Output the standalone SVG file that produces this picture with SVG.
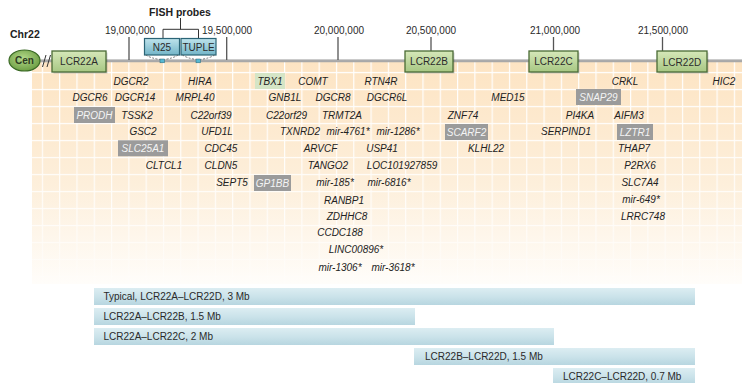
<svg xmlns="http://www.w3.org/2000/svg" width="742" height="383" viewBox="0 0 742 383">
  <defs>
    <linearGradient id="peach" x1="0" y1="0" x2="0" y2="1">
      <stop offset="0" stop-color="#fde4c3"/>
      <stop offset="0.55" stop-color="#fdefdb"/>
      <stop offset="1" stop-color="#fffdfa"/>
    </linearGradient>
    <pattern id="grid" patternUnits="userSpaceOnUse" x="7.2" y="71.9" width="17.3" height="17">
      <path d="M0.6 0V17M0 0.6H17.3" fill="none" stroke="#ffffff" stroke-width="1.2"/>
    </pattern>
    <linearGradient id="gridFade" x1="0" y1="0" x2="0" y2="1">
      <stop offset="0" stop-color="#fff" stop-opacity="1"/>
      <stop offset="0.7" stop-color="#fff" stop-opacity="0.8"/>
      <stop offset="1" stop-color="#fff" stop-opacity="0.2"/>
    </linearGradient>
    <mask id="fadeMask">
      <rect x="0" y="62" width="742" height="222" fill="url(#gridFade)"/>
    </mask>
    <linearGradient id="lcr" x1="0" y1="0" x2="0" y2="1">
      <stop offset="0" stop-color="#d6e8b9"/>
      <stop offset="1" stop-color="#a7c783"/>
    </linearGradient>
    <linearGradient id="probe" x1="0" y1="0" x2="0" y2="1">
      <stop offset="0" stop-color="#bfe3ec"/>
      <stop offset="1" stop-color="#73b5c8"/>
    </linearGradient>
    <radialGradient id="cen" cx="0.45" cy="0.4" r="0.6">
      <stop offset="0" stop-color="#b4d98a"/>
      <stop offset="1" stop-color="#6e9f45"/>
    </radialGradient>
    <linearGradient id="bar" x1="0" y1="0" x2="0" y2="1">
      <stop offset="0" stop-color="#dcedf2"/>
      <stop offset="0.5" stop-color="#cbe3ea"/>
      <stop offset="1" stop-color="#b7d6e0"/>
    </linearGradient>
    <style>
      text { font-family: "Liberation Sans", Arial, sans-serif; font-size: 10px; fill: #222; }
      .g { font-style: italic; text-anchor: middle; }
      .gw { font-style: italic; text-anchor: middle; fill: #f4f4f4; }
      .gray { fill: #9b9b9b; }
      .tbx { fill: #d5e5c6; }
      .tick { stroke: #555; stroke-width: 1.3; }
      .tl { text-anchor: middle; fill: #2a2a2a; }
      .lcrbox { fill: url(#lcr); stroke: #4a6b35; stroke-width: 1.3; }
      .shadow { fill: #000; fill-opacity: 0.18; }
      .lcrt { text-anchor: middle; fill: #2b2b2b; }
      .probebox { fill: url(#probe); stroke: #2b6476; stroke-width: 1.2; }
      .dash { fill: none; stroke: #555; stroke-width: 0.8; stroke-dasharray: 2 1.5; }
      .site { fill: #56b8d2; stroke: #2b6476; stroke-width: 0.5; }
      .bar { fill: url(#bar); }
      .bt { fill: #2a2a2a; }
    </style>
  </defs>

  <!-- gene map background -->
  <rect x="32" y="62" width="710" height="222" fill="url(#peach)"/>
  <rect x="32" y="62" width="710" height="222" fill="url(#grid)" mask="url(#fadeMask)"/>

  <!-- chromosome backbone -->
  <g id="chromosome">
    <text x="10" y="38" style="font-weight:bold;font-size:10.5px">Chr22</text>
    <line x1="38" y1="60.8" x2="742" y2="60.8" stroke="#a8a8a8" stroke-width="3"/>
    <line x1="38" y1="59.6" x2="742" y2="59.6" stroke="#cfcfcf" stroke-width="0.8"/>
    <path d="M42.5 67L46 55M47 67L50.5 55" stroke="#333" stroke-width="1" fill="none"/>
  </g>

  <g id="cen">
    <ellipse cx="24.5" cy="60.5" rx="15.5" ry="10.5" fill="url(#cen)" stroke="#3b6a26" stroke-width="1.2"/>
    <text x="24.5" y="64" style="text-anchor:middle;font-weight:bold;fill:#2d3a22">Cen</text>
  </g>

  <!-- position ticks -->
  <g id="ticks">
    <line class="tick" x1="129" y1="37" x2="129" y2="60"/>
    <text class="tl" x="130" y="33.5">19,000,000</text>
    <line class="tick" x1="226.7" y1="37" x2="226.7" y2="60"/>
    <text class="tl" x="227" y="33.5">19,500,000</text>
    <line class="tick" x1="338" y1="37" x2="338" y2="60"/>
    <text class="tl" x="339" y="33.5">20,000,000</text>
    <line class="tick" x1="431" y1="37" x2="431" y2="51"/>
    <text class="tl" x="431" y="33.5">20,500,000</text>
    <line class="tick" x1="553.5" y1="37" x2="553.5" y2="51"/>
    <text class="tl" x="555" y="33.5">21,000,000</text>
    <line class="tick" x1="662.5" y1="37" x2="662.5" y2="51"/>
    <text class="tl" x="663" y="33.5">21,500,000</text>
  </g>

  <!-- low copy repeat blocks -->
  <g id="lcr22a">
    <rect class="shadow" x="53.5" y="52.5" width="54" height="21"/>
    <rect class="lcrbox" x="52" y="51" width="54" height="21"/>
    <text class="lcrt" x="79" y="65">LCR22A</text>
  </g>
  <g id="lcr22b">
    <rect class="shadow" x="406.5" y="52.5" width="48" height="21"/>
    <rect class="lcrbox" x="405" y="51" width="48" height="21"/>
    <text class="lcrt" x="429" y="65">LCR22B</text>
  </g>
  <g id="lcr22c">
    <rect class="shadow" x="530.5" y="52.5" width="49" height="21"/>
    <rect class="lcrbox" x="529" y="51" width="49" height="21"/>
    <text class="lcrt" x="553.5" y="65">LCR22C</text>
  </g>
  <g id="lcr22d">
    <rect class="shadow" x="658.5" y="52.5" width="50" height="21"/>
    <rect class="lcrbox" x="657" y="51" width="50" height="21"/>
    <text class="lcrt" x="682" y="65.5">LCR22D</text>
  </g>

  <!-- FISH probes -->
  <g id="fish-label">
    <text x="180" y="16" style="text-anchor:middle;font-weight:bold;font-size:10.5px">FISH probes</text>
    <path d="M180.5 18V29.3M163 38.5V29.3H198.5V38.5" fill="none" stroke="#333" stroke-width="1"/>
  </g>
  <g id="probe-n25">
    <rect class="probebox" x="144.5" y="38.5" width="35" height="16.5"/>
    <text class="lcrt" x="162" y="51">N25</text>
    <path class="dash" d="M146 55Q150 58 160 59.5M178 55Q174 58 164.5 59.5"/>
    <rect class="site" x="160" y="59" width="4.5" height="3.8"/>
  </g>
  <g id="probe-tuple">
    <rect class="probebox" x="181" y="38.5" width="35" height="16.5"/>
    <text class="lcrt" x="198.5" y="51">TUPLE</text>
    <path class="dash" d="M182.5 55Q186.5 58 196 59.5M214.5 55Q210.5 58 200.5 59.5"/>
    <rect class="site" x="196" y="59" width="4.5" height="3.8"/>
  </g>

  <!-- genes -->
  <g id="genes">
    <!-- row 1 -->
    <text class="g" x="131" y="84.6">DGCR2</text>
    <text class="g" x="200" y="84.6">HIRA</text>
    <rect class="tbx" x="255" y="73" width="30" height="16"/>
    <text class="g" x="270" y="84.6">TBX1</text>
    <text class="g" x="313" y="84.6">COMT</text>
    <text class="g" x="381" y="84.6">RTN4R</text>
    <text class="g" x="625" y="84.6">CRKL</text>
    <text class="g" x="724" y="84.6">HIC2</text>
    <!-- row 2 -->
    <text class="g" x="90" y="101.2">DGCR6</text>
    <text class="g" x="135" y="101.2">DGCR14</text>
    <text class="g" x="195" y="101.2">MRPL40</text>
    <text class="g" x="285" y="101.2">GNB1L</text>
    <text class="g" x="333" y="101.2">DGCR8</text>
    <text class="g" x="387" y="101.2">DGCR6L</text>
    <text class="g" x="508" y="101.2">MED15</text>
    <rect class="gray" x="576" y="89" width="45" height="16"/>
    <text class="gw" x="598.5" y="100.8">SNAP29</text>
    <!-- row 3 -->
    <rect class="gray" x="74" y="107" width="41" height="16"/>
    <text class="gw" x="94.5" y="118.6">PRODH</text>
    <text class="g" x="137" y="118.6">TSSK2</text>
    <text class="g" x="211" y="118.6">C22orf39</text>
    <text class="g" x="286.5" y="118.6">C22orf29</text>
    <text class="g" x="342" y="118.6">TRMT2A</text>
    <text class="g" x="463" y="118.6">ZNF74</text>
    <text class="g" x="580" y="118.6">PI4KA</text>
    <text class="g" x="629" y="118.6">AIFM3</text>
    <!-- row 4 -->
    <text class="g" x="143" y="135.4">GSC2</text>
    <text class="g" x="217" y="135.4">UFD1L</text>
    <text class="g" x="300" y="135.4">TXNRD2</text>
    <text class="g" x="348" y="135.4">mir-4761*</text>
    <text class="g" x="398" y="135.4">mir-1286*</text>
    <rect class="gray" x="445" y="124" width="43" height="16"/>
    <text class="gw" x="466.5" y="135.6">SCARF2</text>
    <text class="g" x="566" y="135.4">SERPIND1</text>
    <rect class="gray" x="617" y="124" width="36" height="16"/>
    <text class="gw" x="635" y="135.6">LZTR1</text>
    <!-- row 5 -->
    <rect class="gray" x="118" y="140.3" width="50" height="16"/>
    <text class="gw" x="143" y="151.9">SLC25A1</text>
    <text class="g" x="221" y="151.9">CDC45</text>
    <text class="g" x="320.5" y="151.9">ARVCF</text>
    <text class="g" x="382" y="151.9">USP41</text>
    <text class="g" x="486" y="151.9">KLHL22</text>
    <text class="g" x="634" y="151.9">THAP7</text>
    <!-- row 6 -->
    <text class="g" x="164" y="168.6">CLTCL1</text>
    <text class="g" x="221" y="168.6">CLDN5</text>
    <text class="g" x="328" y="168.6">TANGO2</text>
    <text class="g" x="402" y="168.6">LOC101927859</text>
    <text class="g" x="640" y="168.6">P2RX6</text>
    <!-- row 7 -->
    <text class="g" x="232" y="186.3">SEPT5</text>
    <rect class="gray" x="254" y="175" width="37" height="16"/>
    <text class="gw" x="272.5" y="186.6">GP1BB</text>
    <text class="g" x="335" y="186.3">mir-185*</text>
    <text class="g" x="389" y="186.3">mir-6816*</text>
    <text class="g" x="640" y="186.3">SLC7A4</text>
    <!-- row 8 -->
    <text class="g" x="344" y="203.6">RANBP1</text>
    <text class="g" x="641" y="203.3">mir-649*</text>
    <!-- row 9 -->
    <text class="g" x="347" y="219.6">ZDHHC8</text>
    <text class="g" x="643" y="219.6">LRRC748</text>
    <!-- row 10 -->
    <text class="g" x="340" y="235.9">CCDC188</text>
    <!-- row 11 -->
    <text class="g" x="356" y="252.6">LINC00896*</text>
    <!-- row 12 -->
    <text class="g" x="340" y="271.3">mir-1306*</text>
    <text class="g" x="393" y="271.3">mir-3618*</text>
  </g>

  <!-- deletion extents -->
  <g id="del-typical">
    <rect class="bar" x="94" y="288" width="601" height="17"/>
    <text class="bt" x="103.5" y="300">Typical, LCR22A–LCR22D, 3 Mb</text>
  </g>
  <g id="del-ab">
    <rect class="bar" x="94" y="308" width="321" height="17"/>
    <text class="bt" x="103.5" y="320">LCR22A–LCR22B, 1.5 Mb</text>
  </g>
  <g id="del-ac">
    <rect class="bar" x="94" y="328" width="460" height="17"/>
    <text class="bt" x="103.5" y="340">LCR22A–LCR22C, 2 Mb</text>
  </g>
  <g id="del-bd">
    <rect class="bar" x="414" y="348" width="281" height="17"/>
    <text class="bt" x="425" y="360">LCR22B–LCR22D, 1.5 Mb</text>
  </g>
  <g id="del-cd">
    <rect class="bar" x="553" y="368" width="142" height="17"/>
    <text class="bt" x="563" y="380">LCR22C–LCR22D, 0.7 Mb</text>
  </g>
</svg>
